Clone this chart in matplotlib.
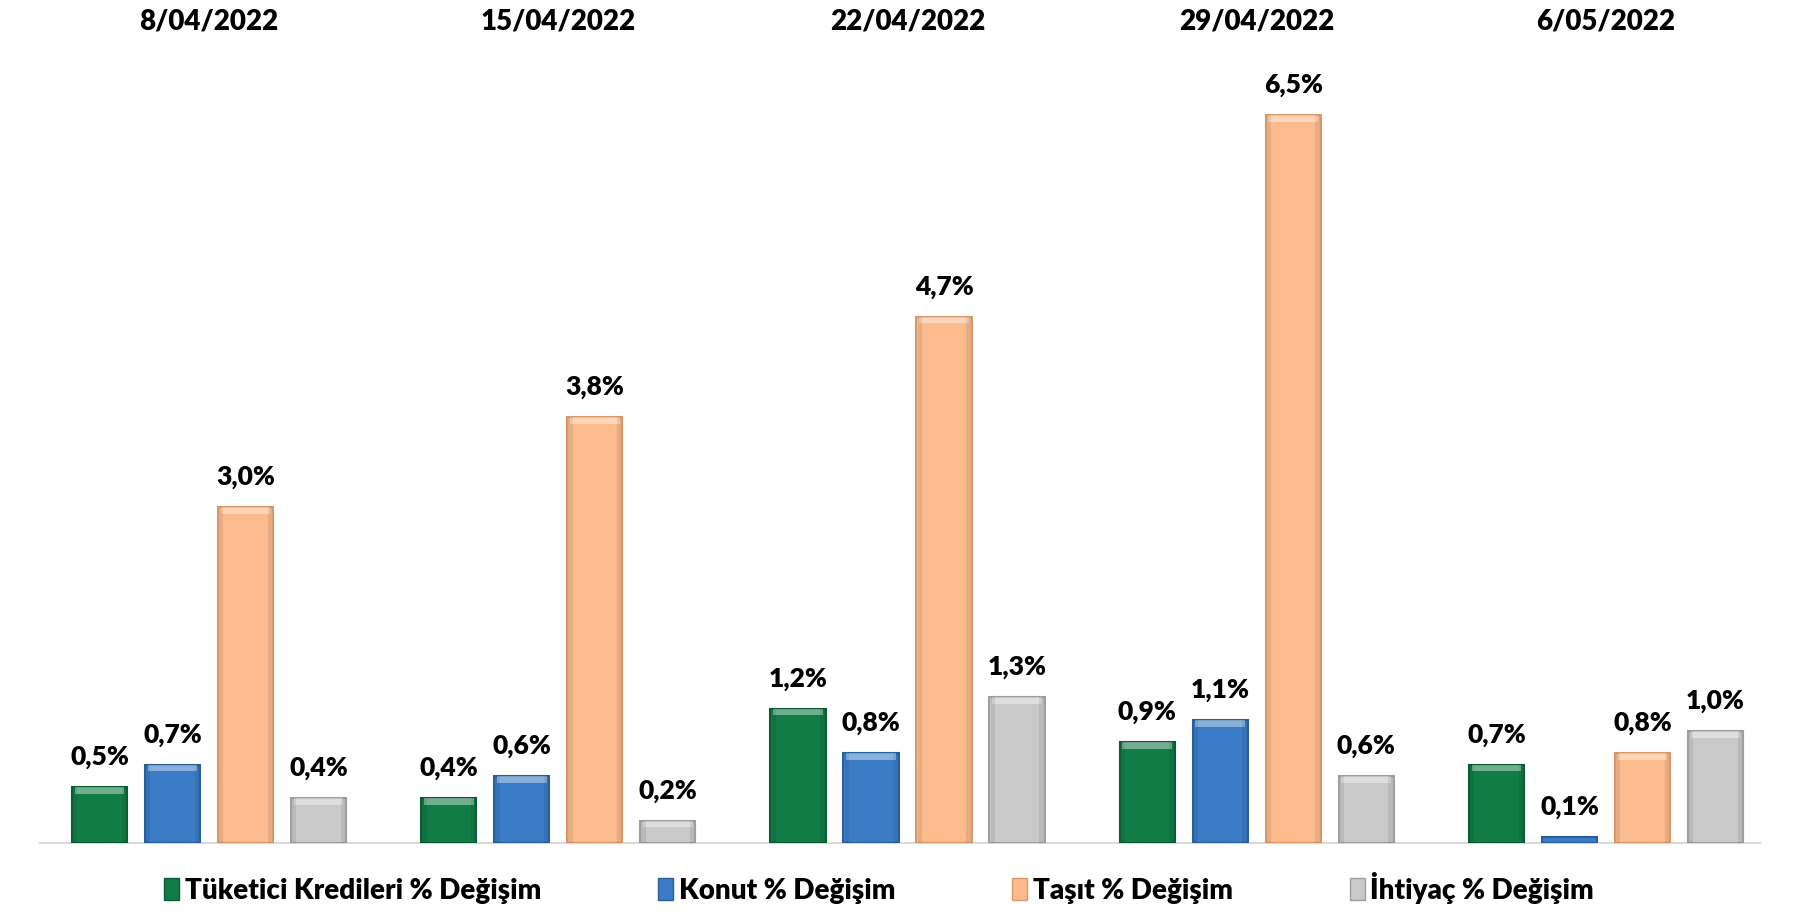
import matplotlib.pyplot as plt
import numpy as np
from matplotlib.patches import Patch

plt.rcParams['font.family'] = ['Lato', 'DejaVu Sans']

# weekly dates and series (% change)
dates = ["8/04/2022", "15/04/2022", "22/04/2022", "29/04/2022", "6/05/2022"]
series_names = ["Tüketici Kredileri % Değişim", "Konut % Değişim",
                "Taşıt % Değişim", "İhtiyaç % Değişim"]
tuketici = [0.5, 0.4, 1.2, 0.9, 0.7]
konut = [0.7, 0.6, 0.8, 1.1, 0.05]   # last bar is drawn very thin, label reads 0,1%
tasit = [3.0, 3.8, 4.7, 6.5, 0.8]
ihtiyac = [0.4, 0.2, 1.3, 0.6, 1.0]
heights = [tuketici, konut, tasit, ihtiyac]

colors = ["#127C47", "#3A7DC6", "#FBBB8D", "#C9C9C9"]
edges = ["#0B5C33", "#285E99", "#D9976A", "#9E9E9E"]

fig = plt.figure(figsize=(18.03, 9.17), dpi=100)
ax = fig.add_axes([0.022, 0.0807, 0.954, 0.855])

x = np.arange(len(dates))
pitch = 0.209
width = 0.158
band = 0.06
for i, (vals, c, ec) in enumerate(zip(heights, colors, edges)):
    pos = x + (i - 1.5) * pitch
    bars = ax.bar(pos, vals, width, color=c, edgecolor=ec, linewidth=1.5, zorder=3)
    # bevel look: light top band, darker sides
    tall = [v for v in vals if v >= 0.15]
    tpos = [p for p, v in zip(pos, vals) if v >= 0.15]
    ax.bar(tpos, [band] * len(tall), width * 0.9, bottom=[v - band for v in tall],
           color="white", alpha=0.4, linewidth=0, zorder=4)
    for side in (-1, 1):
        ax.bar([p + side * width * 0.44 for p in tpos], tall, width * 0.08,
               color="black", alpha=0.08, linewidth=0, zorder=4)
    for b, v in zip(bars, vals):
        ax.annotate(f"{v:.1f}%".replace(".", ","), (b.get_x() + b.get_width() / 2, v),
                    xytext=(0, 13), textcoords="offset points", ha="center", va="bottom",
                    fontsize=19, fontweight="heavy")

for xi, d in zip(x, dates):
    ax.text(xi, 1.048, d, transform=ax.get_xaxis_transform(), ha="center", va="center",
            fontsize=20, fontweight="heavy")

ax.set_xlim(-0.485, 4.44)
ax.set_ylim(0, 7.0)
for s in ["top", "right", "left"]:
    ax.spines[s].set_visible(False)
ax.spines["bottom"].set_color("#D9D9D9")
ax.spines["bottom"].set_linewidth(1.5)
ax.set_xticks([])
ax.set_yticks([])

handles = [Patch(facecolor=c, edgecolor=ec) for c, ec in zip(colors, edges)]
fig.legend(handles, series_names, loc="center", bbox_to_anchor=(0.4876, 0.032), ncol=4,
           frameon=False, handlelength=0.55, handleheight=0.8, handletextpad=0.2,
           columnspacing=4.2, prop={"size": 20, "weight": "heavy"})

fig.savefig("out.png", dpi=100)
